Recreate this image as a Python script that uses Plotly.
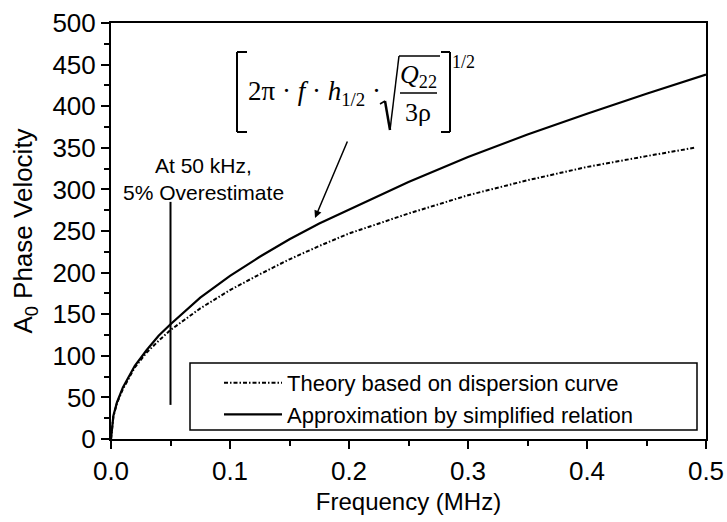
import plotly.graph_objects as go

# ---------------- data ----------------
freq_theory = [0.0, 0.002, 0.005, 0.01, 0.02, 0.03, 0.04, 0.05, 0.075, 0.1, 0.125,
               0.15, 0.175, 0.2, 0.25, 0.3, 0.35, 0.4, 0.45, 0.49]
vel_theory = [0, 27, 43, 60, 86, 104, 118, 131, 157, 179, 198,
              216, 232, 247, 271, 293, 311, 327, 340, 350]

freq_approx = [0.0, 0.002, 0.005, 0.01, 0.02, 0.03, 0.04, 0.05, 0.075, 0.1, 0.125,
               0.15, 0.175, 0.2, 0.25, 0.3, 0.35, 0.4, 0.45, 0.5]
vel_approx = [0, 28, 44, 62, 88, 107, 124, 138, 170, 196, 219,
              240, 259, 276, 309, 339, 366, 391, 415, 438]

name_theory = "Theory based on dispersion curve"
name_approx = "Approximation by simplified relation"

marker_freq = 0.05          # 50 kHz marker line
marker_vel = [41, 285]
note_lines = ["At 50 kHz,", "5% Overestimate"]

x_ticks = [0.0, 0.1, 0.2, 0.3, 0.4, 0.5]
y_ticks = [0, 50, 100, 150, 200, 250, 300, 350, 400, 450, 500]

# ---------------- layout helpers (pixel -> paper) ----------------
W, H = 727, 522
L, R, T, B = 111, 706, 23, 439


def px(x):
    return (x - L) / (R - L)


def py(y):
    return (B - y) / (B - T)


SANS = "Liberation Sans, Arial, sans-serif"
SERIF = "Liberation Serif, Times New Roman, serif"

fig = go.Figure()
fig.add_trace(go.Scatter(x=freq_theory, y=vel_theory, mode="lines", name=name_theory,
                         line=dict(color="black", width=2, dash="4px,2px,1.5px,2px")))
fig.add_trace(go.Scatter(x=freq_approx, y=vel_approx, mode="lines", name=name_approx,
                         line=dict(color="black", width=2.2)))

shapes = []
# 50 kHz marker line (data coords)
shapes.append(dict(type="line", xref="x", yref="y", x0=marker_freq, x1=marker_freq,
                   y0=marker_vel[0], y1=marker_vel[1], line=dict(color="black", width=2)))
# legend frame
shapes.append(dict(type="rect", xref="paper", yref="paper", x0=px(190), x1=px(697),
                   y0=py(430), y1=py(363), line=dict(color="black", width=1.5)))


def seg(x0, y0, x1, y1, w=2):
    shapes.append(dict(type="line", xref="paper", yref="paper", x0=px(x0), y0=py(y0),
                       x1=px(x1), y1=py(y1), line=dict(color="black", width=w)))


# formula brackets
seg(237, 52, 247, 52); seg(237, 52, 237, 132); seg(237, 132, 247, 132)
seg(441, 52, 450, 52); seg(450, 52, 450, 132); seg(441, 132, 450, 132)
# radical sign
seg(380, 104, 385, 101, 1.5)
seg(385, 101, 390, 130, 2.5)
seg(390, 130, 399, 56, 1.5)
seg(399, 56, 440, 56, 1.5)
# fraction bar
seg(400, 93, 437, 93, 1.5)

annotations = []
for i, t in enumerate(note_lines):
    annotations.append(dict(xref="paper", yref="paper", x=px(203), y=py(165 + 27 * i),
                            text=t, showarrow=False, xanchor="center", yanchor="middle",
                            font=dict(family=SANS, size=21, color="black")))

annotations.append(dict(xref="paper", yref="paper", x=px(246), y=py(93),
                        text="2\u03c0 \u00b7 <i>f</i> \u00b7 <i>h</i><sub>1/2</sub> \u00b7",
                        showarrow=False, xanchor="left", yanchor="middle",
                        font=dict(family=SERIF, size=27, color="black")))
annotations.append(dict(xref="paper", yref="paper", x=px(418), y=py(76),
                        text="<i>Q</i><sub>22</sub>", showarrow=False,
                        xanchor="center", yanchor="middle",
                        font=dict(family=SERIF, size=26, color="black")))
annotations.append(dict(xref="paper", yref="paper", x=px(418), y=py(112),
                        text="3\u03c1", showarrow=False,
                        xanchor="center", yanchor="middle",
                        font=dict(family=SERIF, size=26, color="black")))
annotations.append(dict(xref="paper", yref="paper", x=px(463), y=py(62),
                        text="1/2", showarrow=False,
                        xanchor="center", yanchor="middle",
                        font=dict(family=SERIF, size=18, color="black")))
# arrow from formula to curve
annotations.append(dict(xref="paper", yref="paper", x=px(315), y=py(218),
                        ax=33, ay=-78, text="", showarrow=True,
                        arrowhead=2, arrowsize=1, arrowwidth=1.5, arrowcolor="black"))

axis_common = dict(showline=True, linecolor="black", linewidth=2, mirror=True,
                   ticks="outside", tickwidth=2, ticklen=8, tickcolor="black",
                   showgrid=False, zeroline=False,
                   tickfont=dict(family=SANS, size=26, color="black"))

fig.update_layout(
    width=W, height=H,
    margin=dict(l=L, r=W - R, t=T, b=H - B, autoexpand=False),
    paper_bgcolor="white", plot_bgcolor="white",
    font=dict(family=SANS, color="black"),
    xaxis=dict(range=[0, 0.5], tickvals=x_ticks, tickformat=".1f",
               minor=dict(ticks="outside", dtick=0.05, ticklen=5, tickwidth=1.5,
                          tickcolor="black"),
               title=dict(text="Frequency (MHz)", font=dict(family=SANS, size=24),
                          standoff=8),
               **axis_common),
    yaxis=dict(range=[0, 500], tickvals=y_ticks,
               minor=dict(ticks="outside", dtick=25, ticklen=5, tickwidth=1.5,
                          tickcolor="black"),
               title=dict(text="A<sub>0</sub> Phase Velocity",
                          font=dict(family=SANS, size=26), standoff=12),
               **axis_common),
    legend=dict(x=px(219), y=py(362), xanchor="left", yanchor="top",
                bgcolor="rgba(0,0,0,0)", borderwidth=0,
                font=dict(family=SANS, size=22, color="black"),
                itemwidth=58, tracegroupgap=0),
    shapes=shapes,
    annotations=annotations,
    showlegend=True,
)

fig.write_html("out.html")
